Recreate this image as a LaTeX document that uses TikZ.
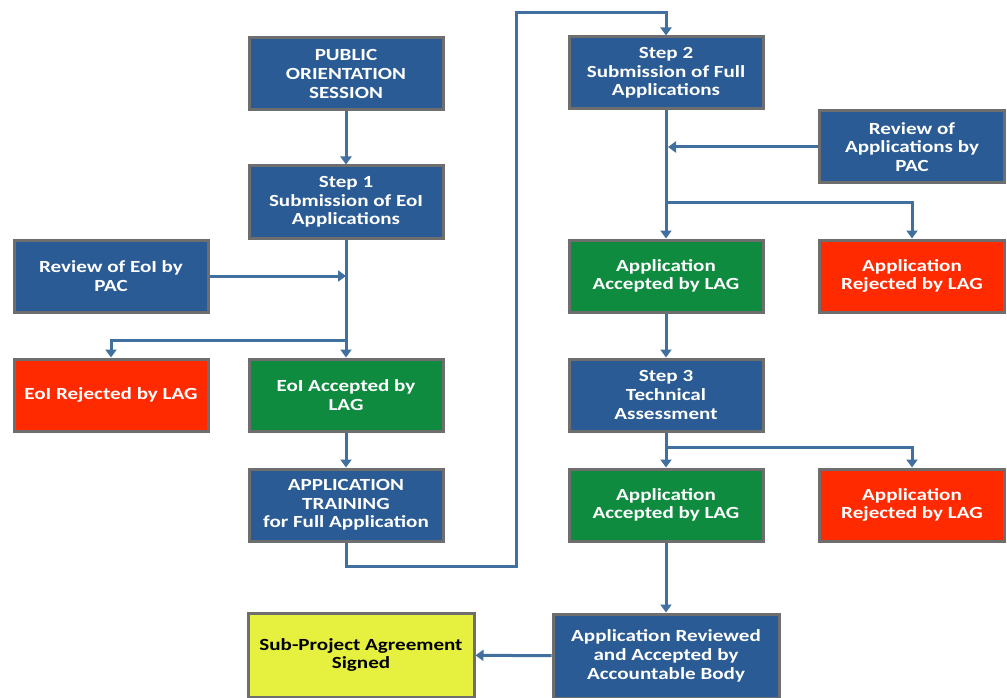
\documentclass[tikz,border=0pt]{standalone}
\usepackage{fontspec}
\setmainfont{Carlito}
\newfontfamily\boxfont[FakeStretch=1.24]{Carlito}
\usetikzlibrary{arrows.meta}
\definecolor{boxblue}{HTML}{2A5B94}
\definecolor{boxgreen}{HTML}{0E8B3F}
\definecolor{boxred}{HTML}{FF2A00}
\definecolor{boxyellow}{HTML}{E6F03E}
\definecolor{edgegray}{HTML}{6E6E6E}
\definecolor{linkblue}{HTML}{41709F}
\begin{document}
\begin{tikzpicture}[x=1pt,y=-1pt,
  box/.style={draw=edgegray,line width=3pt,text=white,align=center,
    font=\boxfont\fontsize{17}{18.7}\selectfont\bfseries,inner sep=0pt,
    minimum width=194pt,minimum height=72pt},
  bluebox/.style={box,fill=boxblue},
  greenbox/.style={box,fill=boxgreen},
  redbox/.style={box,fill=boxred},
  yellowbox/.style={box,fill=boxyellow,text=black},
  link/.style={draw=linkblue,line width=3pt},
  arr/.style={link,-{Triangle[width=11pt,length=8pt]}}]
\useasboundingbox (0,0) rectangle (1007,698);
% nodes
\node[bluebox] (pub) at (346,74) {PUBLIC\\ORIENTATION\\SESSION};
\node[bluebox] (s1) at (346,202) {Step 1\\Submission of EoI\\Applications};
\node[bluebox] (rev1) at (111,276) {Review of EoI by\\PAC};
\node[redbox] (rej1) at (111,395) {EoI Rejected by LAG};
\node[greenbox] (acc1) at (346,395) {EoI Accepted by\\LAG};
\node[bluebox] (train) at (346,505) {APPLICATION\\TRAINING\\for Full Application};
\node[bluebox] (s2) at (666,73) {Step 2\\Submission of Full\\Applications};
\node[bluebox,minimum width=185pt] (rev2) at (912,147) {Review of\\Applications by\\PAC};
\node[greenbox] (acc2) at (666,276) {Application\\Accepted by LAG};
\node[redbox,minimum width=185pt] (rej2) at (912,276) {Application\\Rejected by LAG};
\node[bluebox] (s3) at (666,395) {Step 3\\Technical\\Assessment};
\node[greenbox] (acc3) at (666,505) {Application\\Accepted by LAG};
\node[redbox,minimum width=185pt] (rej3) at (912,505) {Application\\Rejected by LAG};
\node[bluebox,minimum width=226pt,minimum height=84pt] (final) at (666,656) {Application Reviewed\\and Accepted by\\Accountable Body};
\node[yellowbox,minimum width=226pt,minimum height=84pt] (sub) at (361,655) {Sub-Project Agreement\\Signed};
% junction coordinates
\coordinate (j1) at (346,276);
\coordinate (b1) at (346,340);
\coordinate (j2) at (668,147);
\coordinate (b2) at (666,202);
\coordinate (b3) at (666,447);
% connectors
\draw[arr] (pub) -- (s1);
\draw[arr] (s1) -- (acc1);
\draw[arr] (rev1) -- (j1);
\draw[arr] (b1) -| (rej1);
\draw[arr] (acc1) -- (train);
\draw[arr] (train.south) -- ++(0,24) -- ++(170,0) |- (666,13) -- (s2.north);
\draw[arr] (s2) -- (acc2);
\draw[arr] (rev2) -- (j2);
\draw[arr] (b2) -| (rej2);
\draw[arr] (acc2) -- (s3);
\draw[arr] (s3) -- (acc3);
\draw[arr] (b3) -| (rej3);
\draw[arr] (acc3) -- (final);
\draw[arr] (final) -- (sub);
\end{tikzpicture}
\end{document}
